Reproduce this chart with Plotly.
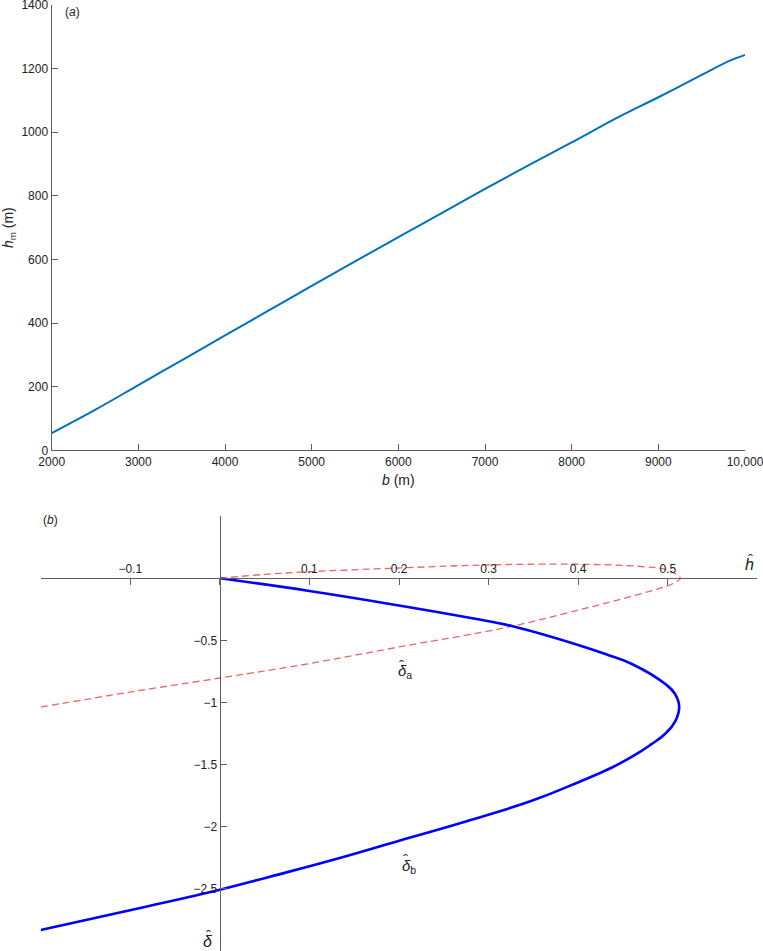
import plotly.graph_objects as go

# panel (a): plume height vs width
b_vals = [2000, 2500, 3000, 3500, 4000, 4500, 5000, 5500, 6000, 6500,
          7000, 7500, 8000, 8500, 9000, 9500, 9800, 10000]
hm_vals = [54, 127, 205, 283, 361, 439, 517, 594, 670, 746,
           822, 896, 968, 1042, 1110, 1180, 1222, 1243]
a_xticks = [2000, 3000, 4000, 5000, 6000, 7000, 8000, 9000, 10000]
a_xlabels = ["2000", "3000", "4000", "5000", "6000", "7000", "8000", "9000", "10,000"]
a_yticks = [0, 200, 400, 600, 800, 1000, 1200, 1400]

# panel (b): delta_b (solid) and delta_a (dashed) vs h-hat
hb_vals = [0, 0.1, 0.2, 0.3, 0.327, 0.4, 0.434, 0.46, 0.497, 0.508, 0.5128, 0.5085,
           0.4975, 0.481, 0.463, 0.436, 0.401, 0.349, 0.2746, 0.2002, 0.1257, 0.056, 0,
           -0.094, -0.2]
db_vals = [0, -0.102, -0.219, -0.346, -0.386, -0.537, -0.62, -0.69, -0.85, -0.93, -1.034,
           -1.15, -1.25, -1.34, -1.425, -1.53, -1.64, -1.79, -1.958, -2.113, -2.269,
           -2.403, -2.508, -2.663, -2.833]
ha_vals = [0, 0.051, 0.1, 0.2, 0.3, 0.4, 0.47, 0.5, 0.514, 0.508, 0.491,
           0.444, 0.4, 0.32, 0.2, 0.1, 0, -0.1, -0.2]
da_vals = [0, 0.032, 0.053, 0.083, 0.108, 0.113, 0.095, 0.065, 0.0, -0.035, -0.081,
           -0.175, -0.256, -0.396, -0.553, -0.687, -0.803, -0.916, -1.037]
b_xticks = [-0.2, -0.1, 0, 0.1, 0.2, 0.3, 0.4, 0.5, 0.6]
b_xlabels = ["", "\u22120.1", "", "0.1", "0.2", "0.3", "0.4", "0.5", ""]
b_yticks = [-3, -2.5, -2, -1.5, -1, -0.5, 0, 0.5]
b_ylabels = ["", "\u22122.5", "\u22122", "\u22121.5", "\u22121", "\u22120.5", "", ""]

W, H = 763, 951
FONT = "Liberation Sans, Arial, sans-serif"
AX = "#5e5e5e"

xdom_a = [51.7 / W, 745 / W]
ydom_a = [1 - 450.3 / H, 1 - 5 / H]
xdom_b = [40.7 / W, 757.3 / W]
ydom_b = [1 - 950.8 / H, 1 - 516.2 / H]
xr_b = [-0.2, 0.6]
yr_b = [-3, 0.5]
# put the axes of panel (b) through the origin
x0_pos = xdom_b[0] + (0 - xr_b[0]) / (xr_b[1] - xr_b[0]) * (xdom_b[1] - xdom_b[0])
y0_pos = ydom_b[0] + (0 - yr_b[0]) / (yr_b[1] - yr_b[0]) * (ydom_b[1] - ydom_b[0])

fig = go.Figure()
fig.add_trace(go.Scatter(x=b_vals, y=hm_vals, mode="lines",
                         line=dict(color="#0072BD", width=2, shape="spline"),
                         xaxis="x", yaxis="y"))
fig.add_trace(go.Scatter(x=ha_vals, y=da_vals, mode="lines",
                         line=dict(color="#f06464", width=1.3, dash="7px,4px", shape="spline",
                                   smoothing=1.0),
                         xaxis="x2", yaxis="y2"))
fig.add_trace(go.Scatter(x=hb_vals, y=db_vals, mode="lines",
                         line=dict(color="#0000ff", width=2.6, shape="spline", smoothing=1.3),
                         xaxis="x2", yaxis="y2"))

axis_common = dict(showgrid=False, zeroline=False, showline=True, linecolor=AX,
                   linewidth=1.3, ticks="inside", ticklen=6, tickcolor=AX, tickwidth=1.3,
                   ticklabeloverflow="allow",
                   tickfont=dict(family=FONT, size=12, color="#222"), automargin=False)

fig.update_layout(
    width=W, height=H,
    margin=dict(l=0, r=0, t=0, b=0),
    paper_bgcolor="white", plot_bgcolor="white",
    showlegend=False,
    font=dict(family=FONT, size=12, color="#222"),
    xaxis=dict(domain=xdom_a, range=[2000, 10000], anchor="y",
               tickvals=a_xticks, ticktext=a_xlabels,
               title=dict(text="<i>b</i> (m)", font=dict(size=14), standoff=7),
               **axis_common),
    yaxis=dict(domain=ydom_a, range=[0, 1400], anchor="x",
               tickvals=a_yticks,
               title=dict(text="<i>h</i><sub>m</sub> (m)", font=dict(size=14), standoff=6),
               **axis_common),
    xaxis2=dict(domain=xdom_b, range=xr_b, anchor="free", position=y0_pos, side="top",
                tickvals=b_xticks, ticktext=b_xlabels, **axis_common),
    yaxis2=dict(domain=ydom_b, range=yr_b, anchor="free", position=x0_pos, side="left",
                tickvals=b_yticks, ticktext=b_ylabels, **axis_common),
)

# text labels, placed in pixels of the figure
notes = [
    ("(<i>a</i>)", 72, 12, 12, "center"),
    ("(<i>b</i>)", 50, 520, 12, "center"),
    ("<i>h</i>", 749, 564, 16, "center"),
    ("<i>\u03b4</i>", 207.5, 941, 16, "center"),
    ("<i>\u03b4</i><sub>a</sub>", 396, 671, 15, "left"),
    ("<i>\u03b4</i><sub>b</sub>", 400, 866, 15, "left"),
]
hats = [(750, 556), (208, 932), (401, 662), (405, 856)]
for text, px, py, size, anchor in notes:
    fig.add_annotation(text=text, x=px / W, y=1 - py / H, xref="paper", yref="paper",
                       showarrow=False, xanchor=anchor, yanchor="middle",
                       font=dict(family=FONT, size=size, color="#222"))
for px, py in hats:
    fig.add_annotation(text="\u02c6", x=px / W, y=1 - (py + 3) / H, xref="paper", yref="paper",
                       showarrow=False, xanchor="center", yanchor="middle",
                       font=dict(family=FONT, size=15, color="#222"))

fig.write_html("out.html", config={"displayModeBar": False},
               post_script="document.body.style.margin='0';")
